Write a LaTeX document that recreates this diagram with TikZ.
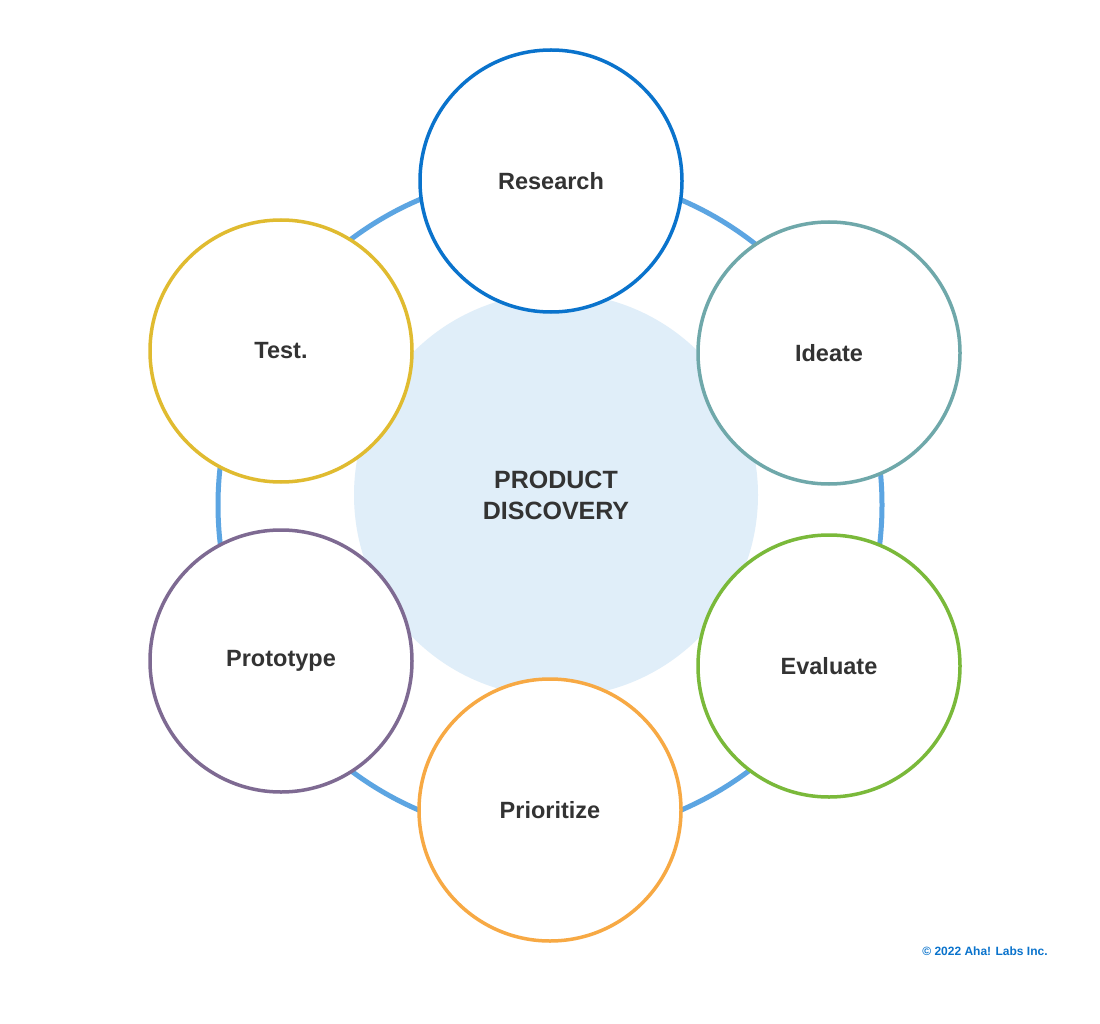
\documentclass[tikz,border=0pt]{standalone}
\usepackage{fontspec}
\setmainfont{Liberation Sans}
\definecolor{ring}{HTML}{5CA5E2}
\definecolor{core}{HTML}{E0EEF9}
\definecolor{cres}{HTML}{0A73CC}
\definecolor{cide}{HTML}{6FA8AA}
\definecolor{ceva}{HTML}{7AB93A}
\definecolor{cpri}{HTML}{F7A944}
\definecolor{cpro}{HTML}{7E6A92}
\definecolor{ctes}{HTML}{E0BB30}
\definecolor{txt}{HTML}{333333}
\begin{document}
\begin{tikzpicture}[x=1pt,y=-1pt,
  stage/.style={circle,draw,line width=3.5pt,fill=white,minimum size=262pt,inner sep=0pt,font=\fontsize{23.5}{27}\selectfont\bfseries,text=txt}]
\useasboundingbox (0,0) rectangle (1100,1024);
\fill[white] (0,0) rectangle (1100,1024);
\coordinate (c) at (550,505);
\draw[ring,line width=5pt] (c) circle[radius=332pt];
\node[circle,fill=core,minimum size=404pt,inner sep=0pt,align=center,font=\fontsize{25}{31}\selectfont\bfseries,text=txt] (core) at (556,495) {PRODUCT\\DISCOVERY};
\node[stage,draw=cres] (res) at (551,181) {Research};
\node[stage,draw=cide] (ide) at (829,353) {Ideate};
\node[stage,draw=ceva] (eva) at (829,666) {Evaluate};
\node[stage,draw=cpri] (pri) at (550,810) {Prioritize};
\node[stage,draw=cpro] (pro) at (281,661) {Prototype};
\node[stage,draw=ctes] (tes) at (281,351) {Test.};
\node[font=\fontsize{12}{14}\selectfont\bfseries,text=cres] (copy) at (985,951) {© 2022 Aha! Labs Inc.};
\end{tikzpicture}
\end{document}
